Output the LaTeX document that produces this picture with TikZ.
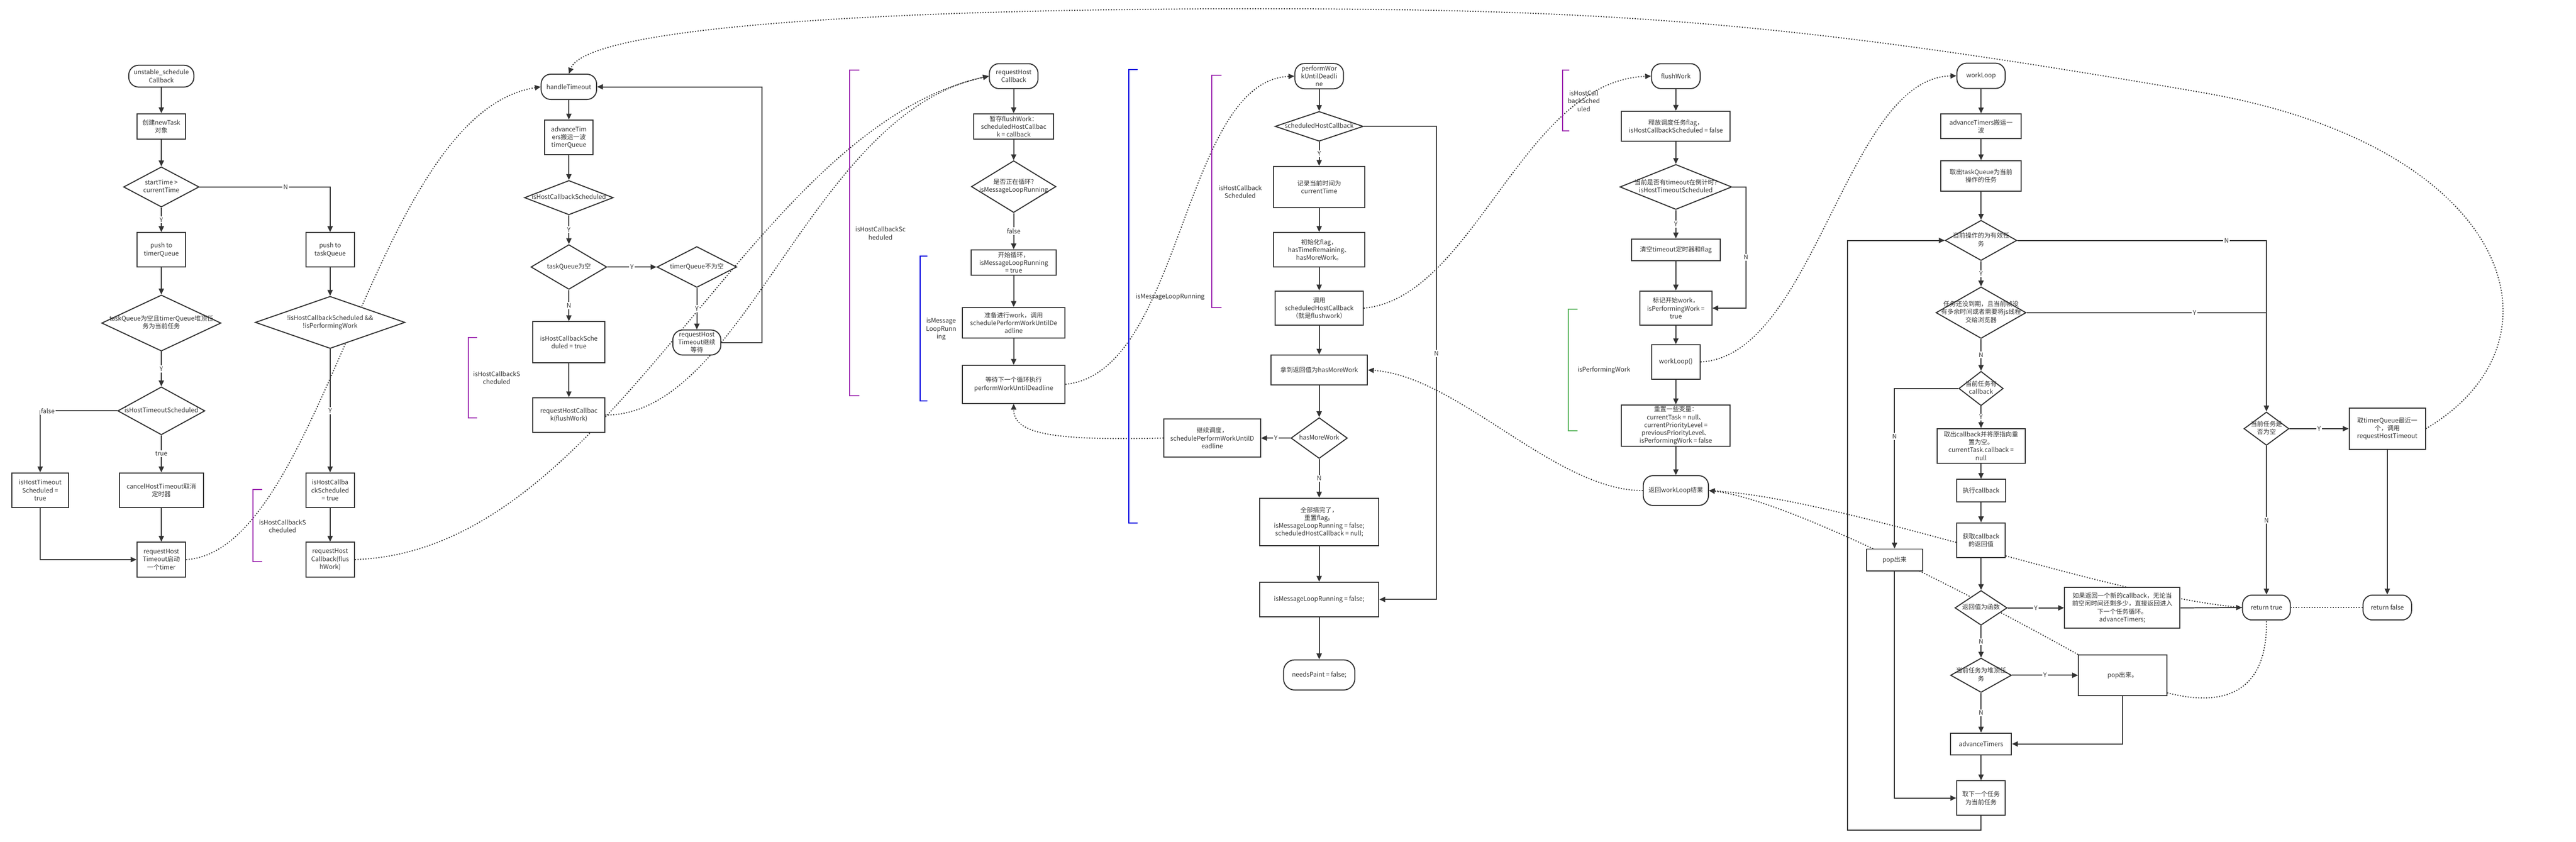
\documentclass[tikz,border=0pt]{standalone}
\usepackage{fontspec}
\setmainfont{Noto Sans CJK SC}
\usetikzlibrary{arrows.meta,shapes.geometric}
\definecolor{linec}{HTML}{333333}
\definecolor{bpurple}{HTML}{9C27B0}
\definecolor{bblue}{HTML}{0000E0}
\definecolor{bgreen}{HTML}{4CAF50}
\newcommand{\nodefont}{\fontsize{5.5pt}{6.9pt}\selectfont}
\newcommand{\dtext}[1]{\makebox[0pt]{\begin{tabular}{@{}c@{}}#1\end{tabular}}}
\pgfdeclarelayer{back}
\pgfsetlayers{back,main}
\tikzset{>={Triangle[length=0.18cm,width=0.16cm]}}
\tikzstyle{term}=[rectangle,draw=linec,fill=white,line width=0.9pt,rounded corners=0.3cm,align=center,text=linec,font=\nodefont,inner sep=1pt]
\tikzstyle{proc}=[rectangle,draw=linec,fill=white,line width=0.9pt,align=center,text=linec,font=\nodefont,inner sep=1pt]
\tikzstyle{decision}=[diamond,draw=linec,fill=white,line width=0.9pt,inner sep=0pt,text=linec,font=\nodefont]
\tikzstyle{lbl}=[fill=white,inner sep=1pt,text=linec,font=\nodefont]
\tikzstyle{note}=[text=linec,font=\nodefont,align=center]
\tikzstyle{flow}=[draw=linec,line width=0.9pt,->]
\tikzstyle{flowline}=[draw=linec,line width=0.9pt]
\tikzstyle{dotlink}=[draw=linec,line width=0.9pt,dash pattern=on 0.9pt off 1.4pt]
\tikzstyle{brk}=[line width=0.9pt]

\begin{document}
\begin{tikzpicture}[x=0.01cm,y=-0.01cm]
	% unstable_scheduleCallback
	\node[term, minimum width=2.01cm, minimum height=0.67cm] (sched) at (498,235) {unstable\_schedule\\Callback};
	\node[proc, minimum width=1.50cm, minimum height=0.78cm] (newtask) at (498,390) {创建newTask\\对象};
	\node[decision, minimum width=2.33cm, minimum height=1.24cm] (dstart) at (498,577) {\dtext{startTime >\\currentTime}};
	\node[proc, minimum width=1.50cm, minimum height=1.06cm] (pushtimer) at (498,771) {push to\\timerQueue};
	\node[proc, minimum width=1.50cm, minimum height=1.06cm] (pushtask) at (1019,771) {push to\\taskQueue};
	\node[decision, minimum width=3.68cm, minimum height=1.73cm] (dfirst) at (498,997) {\dtext{taskQueue为空且timerQueue堆顶任\\务为当前任务}};
	\node[decision, minimum width=4.62cm, minimum height=1.61cm] (dcbs) at (1019,995) {\dtext{!isHostCallbackScheduled \&\&\\!isPerformingWork}};
	\node[decision, minimum width=2.69cm, minimum height=1.48cm] (dhts) at (498,1268) {\dtext{isHostTimeoutScheduled}};
	\node[proc, minimum width=1.74cm, minimum height=1.07cm] (sethts) at (124,1513) {isHostTimeout\\Scheduled =\\true};
	\node[proc, minimum width=2.59cm, minimum height=1.07cm] (cancel) at (498,1513) {cancelHostTimeout取消\\定时器};
	\node[proc, minimum width=1.50cm, minimum height=1.07cm] (reqto) at (498,1727) {requestHost\\Timeout启动\\一个timer};
	\node[proc, minimum width=1.50cm, minimum height=1.07cm] (setcbs) at (1019,1513) {isHostCallba\\ckScheduled\\= true};
	\node[proc, minimum width=1.50cm, minimum height=1.07cm] (reqcb) at (1019,1727) {requestHost\\Callback(flus\\hWork)};

	\draw[flow] (sched) -- (newtask);
	\draw[flow] (newtask) -- (dstart);
	\draw[flow] (dstart) -- node[lbl]{Y} (pushtimer);
	\draw[flow] (dstart.east) -| node[lbl,pos=0.33]{N} (pushtask.north);
	\draw[flow] (pushtimer) -- (dfirst);
	\draw[flow] (pushtask) -- (dcbs);
	\draw[flow] (dfirst) -- node[lbl]{Y} (dhts);
	\draw[flow] (dcbs) -- node[lbl]{Y} (setcbs);
	\draw[flow] (dhts.west) -| node[lbl,pos=0.45]{false} (sethts.north);
	\draw[flow] (dhts) -- node[lbl]{true} (cancel);
	\draw[flow] (sethts.south) |- (reqto.west);
	\draw[flow] (cancel) -- (reqto);
	\draw[flow] (setcbs) -- (reqcb);

	\draw[brk, draw=bpurple] (810,1511) -- (781,1511) -- (781,1734) -- (810,1734);
	\node[note] (hcs1) at (872,1624) {isHostCallbackS\\cheduled};

	% handleTimeout
	\node[term, minimum width=1.71cm, minimum height=0.78cm] (htimeout) at (1756,268) {handleTimeout};
	\node[proc, minimum width=1.50cm, minimum height=1.07cm] (adv) at (1756,424) {advanceTim\\ers搬运一波\\timerQueue};
	\node[decision, minimum width=2.74cm, minimum height=1.06cm] (dhcs) at (1756,610) {\dtext{isHostCallbackScheduled}};
	\node[decision, minimum width=2.34cm, minimum height=1.38cm] (dtqe) at (1756,824) {\dtext{taskQueue为空}};
	\node[decision, minimum width=2.46cm, minimum height=1.26cm] (dtmne) at (2151,824) {\dtext{timerQueue不为空}};
	\node[term, minimum width=1.48cm, minimum height=0.77cm] (reqto2) at (2151,1057) {requestHost\\Timeout继续\\等待};
	\node[proc, minimum width=2.22cm, minimum height=1.26cm] (setcbs2) at (1756,1056) {isHostCallbackSche\\duled = true};
	\node[proc, minimum width=2.22cm, minimum height=1.07cm] (reqcb2) at (1756,1281) {requestHostCallbac\\k(flushWork)};

	\draw[flow] (htimeout) -- (adv);
	\draw[flow] (adv) -- (dhcs);
	\draw[flow] (dhcs) -- node[lbl]{Y} (dtqe);
	\draw[flow] (dtqe) -- node[lbl]{Y} (dtmne);
	\draw[flow] (dtqe) -- node[lbl]{N} (setcbs2);
	\draw[flow] (dtmne) -- node[lbl]{Y} (reqto2);
	\draw[flow] (reqto2.east) -- ++(125,0) |- (htimeout.east);
	\draw[flow] (setcbs2) -- (reqcb2);

	\draw[brk, draw=bpurple] (1473,1042) -- (1445,1042) -- (1445,1289) -- (1473,1289);
	\node[note] (hcs2) at (1533,1166) {isHostCallbackS\\cheduled};

	% requestHostCallback
	\node[term, minimum width=1.50cm, minimum height=0.77cm] (rhc) at (3129,235) {requestHost\\Callback};
	\node[proc, minimum width=2.47cm, minimum height=0.78cm] (store) at (3129,390) {暂存flushWork：\\scheduledHostCallbac\\k = callback};
	\node[decision, minimum width=2.61cm, minimum height=1.60cm] (dloop) at (3129,576) {\dtext{是否正在循环?\\isMessageLoopRunning}};
	\node[proc, minimum width=2.61cm, minimum height=0.78cm] (startloop) at (3129,810) {开始循环，\\isMessageLoopRunning\\= true};
	\node[proc, minimum width=3.17cm, minimum height=0.94cm] (prep) at (3129,996) {准备进行work，调用\\schedulePerformWorkUntilDe\\adline};
	\node[proc, minimum width=3.17cm, minimum height=1.17cm] (waitnext) at (3129,1186) {等待下一个循环执行\\performWorkUntilDeadline};

	\draw[flow] (rhc) -- (store);
	\draw[flow] (store) -- (dloop);
	\draw[flow] (dloop) -- node[lbl]{false} (startloop);
	\draw[flow] (startloop) -- (prep);
	\draw[flow] (prep) -- (waitnext);

	\draw[brk, draw=bpurple] (2653,216) -- (2623,216) -- (2623,1222) -- (2653,1222);
	\node[note] (hcs3) at (2718,720) {isHostCallbackSc\\heduled};
	\draw[brk, draw=bblue] (2862,791) -- (2840,791) -- (2840,1237) -- (2862,1237);
	\node[note] (mlr1) at (2905,1016) {isMessage\\LoopRunn\\ing};
	\draw[brk, draw=bblue] (3511,215) -- (3484,215) -- (3484,1614) -- (3511,1614);
	\node[note] (mlr2) at (3612,916) {isMessageLoopRunning};

	% performWorkUntilDeadline
	\node[term, minimum width=1.50cm, minimum height=0.78cm] (pwud) at (4072,235) {performWor\\kUntilDeadli\\ne};
	\node[decision, minimum width=2.72cm, minimum height=0.92cm] (dshc) at (4072,390) {\dtext{scheduledHostCallback}};
	\node[proc, minimum width=2.80cm, minimum height=1.27cm] (record) at (4072,577) {记录当前时间为\\currentTime};
	\node[proc, minimum width=2.80cm, minimum height=1.07cm] (initflag) at (4072,771) {初始化flag，\\hasTimeRemaining、\\hasMoreWork。};
	\node[proc, minimum width=2.72cm, minimum height=1.06cm] (callshc) at (4072,951) {调用\\scheduledHostCallback\\（就是flushwork）};
	\node[proc, minimum width=2.98cm, minimum height=0.92cm] (getmore) at (4072,1142) {拿到返回值为hasMoreWork};
	\node[decision, minimum width=1.74cm, minimum height=1.26cm] (dmore) at (4072,1352) {\dtext{hasMoreWork}};
	\node[proc, minimum width=2.98cm, minimum height=1.17cm] (goon) at (3742,1352) {继续调度，\\schedulePerformWorkUntilD\\eadline};
	\node[proc, minimum width=3.68cm, minimum height=1.47cm] (alldone) at (4072,1611) {全部搞完了，\\重置flag。\\isMessageLoopRunning = false;\\scheduledHostCallback = null;};
	\node[proc, minimum width=3.68cm, minimum height=1.06cm] (mlfalse) at (4072,1850) {isMessageLoopRunning = false;};
	\node[term, minimum width=2.20cm, minimum height=0.93cm, rounded corners=0.35cm] (npaint) at (4072,2083) {needsPaint = false;};

	\draw[flow] (pwud) -- (dshc);
	\draw[flow] (dshc) -- node[lbl]{Y} (record);
	\draw[flow] (record) -- (initflag);
	\draw[flow] (initflag) -- (callshc);
	\draw[flow] (callshc) -- (getmore);
	\draw[flow] (getmore) -- (dmore);
	\draw[flow] (dshc.east) -- ++(224,0) |- node[lbl,pos=0.24]{N} (mlfalse.east);
	\draw[flow] (dmore) -- node[lbl]{Y} (goon);
	\draw[flow] (dmore) -- node[lbl]{N} (alldone);
	\draw[flow] (alldone) -- (mlfalse);
	\draw[flow] (mlfalse) -- (npaint);

	\draw[brk, draw=bpurple] (3770,232) -- (3741,232) -- (3741,950) -- (3770,950);
	\node[note] (hcs4) at (3828,592) {isHostCallback\\Scheduled};

	% flushWork
	\node[term, minimum width=1.50cm, minimum height=0.77cm] (flush) at (5173,235) {flushWork};
	\node[proc, minimum width=3.35cm, minimum height=0.93cm] (release) at (5173,390) {释放调度任务flag，\\isHostCallbackScheduled = false};
	\node[decision, minimum width=3.45cm, minimum height=1.39cm] (dhts2) at (5173,577) {\dtext{当前是否有timeout在倒计时?\\isHostTimeoutScheduled}};
	\node[proc, minimum width=2.73cm, minimum height=0.67cm] (cleart) at (5173,771) {清空timeout定时器和flag};
	\node[proc, minimum width=2.22cm, minimum height=1.06cm] (markw) at (5173,951) {标记开始work，\\isPerformingWork =\\true};
	\node[proc, minimum width=1.50cm, minimum height=1.06cm] (wloop) at (5173,1117) {workLoop()};
	\node[proc, minimum width=3.35cm, minimum height=1.27cm] (resetv) at (5173,1313) {重置一些变量：\\currentTask = null、\\currentPriorityLevel =\\previousPriorityLevel、\\isPerformingWork = false};
	\node[term, minimum width=2.01cm, minimum height=0.92cm] (retwl) at (5173,1514) {返回workLoop结果};

	\draw[flow] (flush) -- (release);
	\draw[flow] (release) -- (dhts2);
	\draw[flow] (dhts2) -- node[lbl]{Y} (cleart);
	\draw[flow] (dhts2.east) -- ++(42,0) |- node[lbl,pos=0.29]{N} (markw.east);
	\draw[flow] (cleart) -- (markw);
	\draw[flow] (markw) -- (wloop);
	\draw[flow] (wloop) -- (resetv);
	\draw[flow] (resetv) -- (retwl);

	\draw[brk, draw=bpurple] (4844,217) -- (4823,217) -- (4823,404) -- (4844,404);
	\node[note] (hcs5) at (4889,312) {isHostCall\\backSched\\uled};
	\draw[brk, draw=bgreen] (4870,954) -- (4841,954) -- (4841,1329) -- (4870,1329);
	\node[note] (ipw) at (4951,1142) {isPerformingWork};

	% workLoop
	\node[term, minimum width=1.49cm, minimum height=0.78cm] (wlstart) at (6115,234) {workLoop};
	\node[proc, minimum width=2.47cm, minimum height=0.77cm] (adv2) at (6115,390) {advanceTimers搬运一\\波};
	\node[proc, minimum width=2.47cm, minimum height=0.94cm] (take) at (6115,543) {取出taskQueue为当前\\操作的任务};
	\node[decision, minimum width=2.21cm, minimum height=1.24cm] (dvalid) at (6115,742) {\dtext{当前操作的为有效任\\务}};
	\node[decision, minimum width=2.78cm, minimum height=1.59cm] (dexpire) at (6115,965) {\dtext{任务还没到期，且当前帧没\\有多余时间或者需要将js线程\\交给浏览器}};
	\node[decision, minimum width=1.37cm, minimum height=1.06cm] (dhascb) at (6115,1199) {\dtext{当前任务有\\callback}};
	\node[proc, minimum width=2.72cm, minimum height=1.07cm] (takecb) at (6115,1376) {取出callback并将原指向重\\置为空。\\currentTask.callback =\\null};
	\node[proc, minimum width=1.51cm, minimum height=0.69cm] (runcb) at (6115,1514) {执行callback};
	\node[proc, minimum width=1.50cm, minimum height=1.07cm] (getret) at (6115,1667) {获取callback\\的返回值};
	\node[proc, minimum width=1.74cm, minimum height=0.67cm] (popa) at (5848,1728) {pop出来};
	\node[decision, minimum width=1.61cm, minimum height=1.07cm] (dfunc) at (6115,1876) {\dtext{返回值为函数}};
	\node[proc, minimum width=3.56cm, minimum height=1.26cm] (newcb) at (6551,1876) {如果返回一个新的callback，无论当\\前空闲时间还剩多少，直接返回进入\\下一个任务循环。\\advanceTimers;};
	\node[decision, minimum width=1.88cm, minimum height=1.06cm] (dtop) at (6115,2084) {\dtext{当前任务为堆顶任\\务}};
	\node[proc, minimum width=2.72cm, minimum height=1.25cm] (popb) at (6552,2084) {pop出来。};
	\node[proc, minimum width=1.88cm, minimum height=0.67cm] (adv3) at (6115,2296) {advanceTimers};
	\node[proc, minimum width=1.50cm, minimum height=1.06cm] (nexttask) at (6115,2463) {取下一个任务\\为当前任务};
	\node[decision, minimum width=1.39cm, minimum height=1.03cm] (dnull) at (6996,1323) {\dtext{当前任务是\\否为空}};
	\node[proc, minimum width=2.35cm, minimum height=1.26cm] (tqreq) at (7369,1323) {取timerQueue最近一\\个，调用\\requestHostTimeout};
	\node[term, minimum width=1.48cm, minimum height=0.77cm] (rettrue) at (6996,1875) {return true};
	\node[term, minimum width=1.50cm, minimum height=0.77cm] (retfalse) at (7369,1875) {return false};

	\draw[flow] (wlstart) -- (adv2);
	\draw[flow] (adv2) -- (take);
	\draw[flow] (take) -- (dvalid);
	\draw[flow] (dvalid) -- node[lbl]{Y} (dexpire);
	\draw[flow] (dexpire) -- node[lbl]{N} (dhascb);
	\draw[flow] (dhascb) -- node[lbl]{Y} (takecb);
	\draw[flow] (takecb) -- (runcb);
	\draw[flow] (runcb) -- (getret);
	\draw[flow] (getret) -- (dfunc);
	\draw[flow] (dfunc) -- node[lbl]{N} (dtop);
	\draw[flow] (dtop) -- node[lbl]{N} (adv3);
	\draw[flow] (adv3) -- (nexttask);
	\draw[flow] (dvalid.east) -| node[lbl,pos=0.42]{N} (dnull.north);
	\draw[flowline] (dexpire.east) -- node[lbl,pos=0.7]{Y} (dexpire.east -| dnull.north);
	\draw[flow] (dhascb.west) -| node[lbl,pos=0.65]{N} (popa.north);
	\draw[flow] (popa.south) |- (nexttask.west);
	\draw[flow] (dfunc) -- node[lbl]{Y} (newcb);
	\draw[flow] (newcb.east) -- (rettrue.west);
	\draw[flow] (dtop) -- node[lbl]{Y} (popb);
	\draw[flow] (popb.south) |- (adv3.east);
	\draw[flow] (nexttask.south) |- (5703,2562) |- (dvalid.west);
	\draw[flow] (dnull) -- node[lbl]{Y} (tqreq);
	\draw[flow] (dnull) -- node[lbl]{N} (rettrue);
	\draw[flow] (tqreq) -- (retfalse);

	% dotted call links
	\begin{pgfonlayer}{back}
	\fill[white] (0,0) rectangle (7806,2598);
	\draw[dotlink,->] (reqto.east) .. controls (1000,1700) and (1150,350) .. (htimeout.west);
	\draw[dotlink,->] (reqcb.east) .. controls (1900,1700) and (2300,400) .. (rhc.west);
	\draw[dotlink,->] (reqcb2.east) .. controls (2300,1281) and (2500,350) .. (rhc.west);
	\draw[dotlink,->] (waitnext.east) .. controls (3650,1150) and (3650,250) .. (pwud.west);
	\draw[dotlink,->] (goon.west) .. controls (3250,1360) and (3129,1340) .. (waitnext.south);
	\draw[dotlink,->] (callshc.east) .. controls (4550,920) and (4700,250) .. (flush.west);
	\draw[dotlink,->] (wloop.east) .. controls (5600,1100) and (5700,240) .. (wlstart.west);
	\draw[dotlink,->] (retwl.west) .. controls (4800,1514) and (4500,1160) .. (getmore.east);
	\draw[dotlink,->] (rettrue.west) .. controls (6500,1840) and (5700,1540) .. (retwl.east);
	\draw[dotlink,->] (popb.north west) .. controls (6000,1790) and (5500,1540) .. (retwl.east);
	\draw[dotlink] ([yshift=0.1cm]popb.south east) .. controls (6850,2180) and (7000,2150) .. (rettrue.south);
	\draw[dotlink] (retfalse.west) -- (rettrue.east);
	\draw[dotlink,->] (tqreq.east) .. controls (7950,1050) and (7750,450) .. (6800,286)
		.. controls (5565,73) and (5000,27) .. (3877,27)
		.. controls (2777,27) and (1811,79) .. (htimeout.north);
	\end{pgfonlayer}
\end{tikzpicture}
\end{document}
